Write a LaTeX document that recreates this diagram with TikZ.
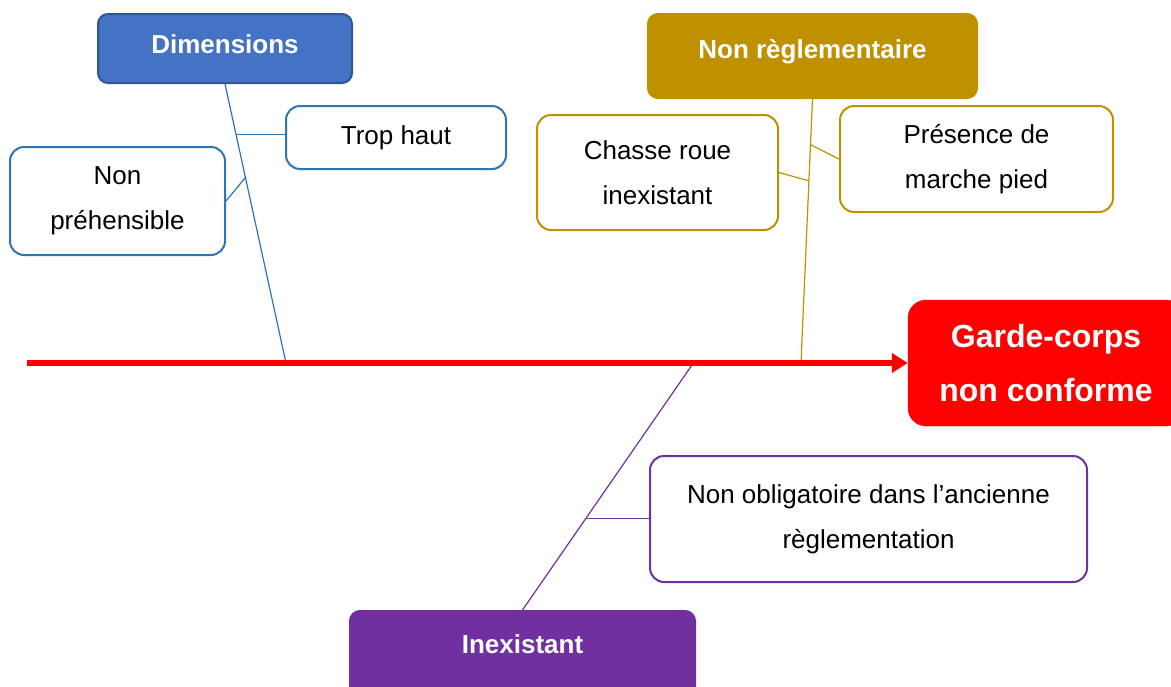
\documentclass[tikz,border=0pt]{standalone}
\usepackage{fontspec}
\setmainfont{Liberation Sans}
\usetikzlibrary{arrows.meta,calc}
\definecolor{dimblue}{HTML}{4472C4}
\definecolor{dimborder}{HTML}{2F5597}
\definecolor{lblue}{HTML}{2E75B6}
\definecolor{gold}{HTML}{BF9000}
\definecolor{purp}{HTML}{7030A0}
\definecolor{gred}{HTML}{FF0000}
\begin{document}
\begin{tikzpicture}[x=1pt,y=-1pt,
 body/.style={draw, line width=2pt, rounded corners=14pt, fill=white, inner sep=0pt, align=center, font=\fontsize{26}{45}\selectfont},
 head/.style={line width=2pt, rounded corners=10pt, inner sep=0pt, align=center, text=white, font=\fontsize{26}{31}\selectfont\bfseries, text height=19pt},
 link/.style={line width=1.2pt}]
\useasboundingbox (0,0) rectangle (1171,686);
\clip (0,0) rectangle (1171,686);
% nodes
\node[head, draw=dimborder, fill=dimblue, minimum width=254pt, minimum height=69pt, text depth=9pt] (dim) at (225,48.5) {Dimensions};
\node[body, draw=lblue, minimum width=220pt, minimum height=63pt] (trop) at (396,137.5) {Trop haut};
\node[body, draw=lblue, minimum width=215pt, minimum height=108pt] (npr) at (117.5,201) {Non\\préhensible};
\node[head, draw=gold, fill=gold, minimum width=329pt, minimum height=84pt, text depth=14pt] (nr) at (812.5,56) {Non règlementaire};
\node[body, draw=gold, minimum width=241pt, minimum height=115pt] (chasse) at (657.5,172.5) {Chasse roue\\inexistant};
\node[body, draw=gold, minimum width=273pt, minimum height=106pt] (pres) at (976.5,159) {Présence de\\marche pied};
\node[draw=gred, fill=gred, rounded corners=18pt, minimum width=276pt, minimum height=126pt, inner sep=0pt, align=center, text=white, font=\fontsize{32}{54}\selectfont\bfseries] (gc) at (1046,363) {Garde-corps\\non conforme};
\node[body, draw=purp, minimum width=437pt, minimum height=126pt] (nob) at (868.5,519) {Non obligatoire dans l’ancienne\\règlementation};
\node[head, draw=purp, fill=purp, minimum width=345pt, minimum height=89pt, text depth=23pt] (inex) at (522.5,655.5) {Inexistant};
% spine points
\coordinate (s0) at (27,363);
\coordinate (sd) at (286,363);
\coordinate (sn) at (801,363);
\coordinate (si) at (692,365);
\coordinate (bt) at ($(dim.south)!0.18!(sd)$);
\coordinate (bi) at ($(si)!0.625!(inex.north)$);
% connectors
\draw[lblue, link] (dim.south) -- (sd);
\draw[lblue, link] (bt) -- (trop.west |- bt);
\draw[lblue, link] ($(dim.south)!0.335!(sd)$) -- (npr.east);
\draw[gold, link] (nr.south) -- (sn);
\draw[gold, link] ($(nr.south)!0.31!(sn)$) -- (chasse.east);
\draw[gold, link] ($(nr.south)!0.173!(sn)$) -- (pres.west);
\draw[purp, link] (si) -- (inex.north);
\draw[purp, link] (bi) -- (nob.west |- bi);
% spine
\draw[gred, line width=5.5pt, -{Triangle[length=16pt,width=19pt]}] (s0) -- (gc.west);
\end{tikzpicture}
\end{document}
